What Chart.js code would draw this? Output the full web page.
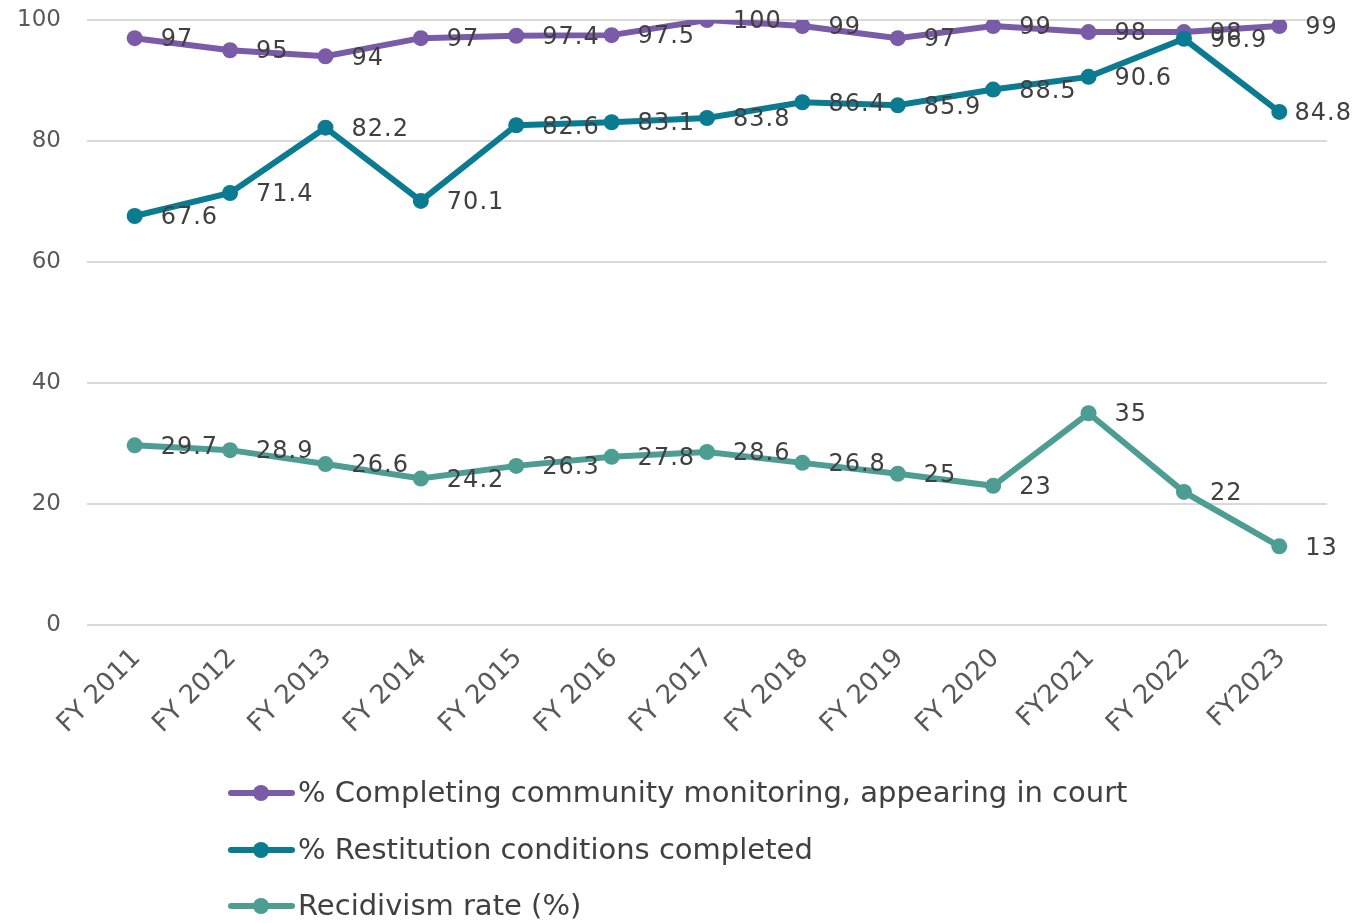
<!DOCTYPE html>
<html>
<head>
<meta charset="utf-8">
<script src="https://cdn.jsdelivr.net/npm/chart.js@4.4.1/dist/chart.umd.min.js"></script>
<style>
  html, body { margin: 0; padding: 0; background: #ffffff; }
  #wrap { width: 1356px; height: 923px; }
</style>
</head>
<body>
<div id="wrap"><canvas id="chart" width="1356" height="923"></canvas></div>
<script>
// Fiscal years on the category axis
const years = ['FY 2011', 'FY 2012', 'FY 2013', 'FY 2014', 'FY 2015', 'FY 2016', 'FY 2017',
               'FY 2018', 'FY 2019', 'FY 2020', 'FY2021', 'FY 2022', 'FY2023'];

// % Completing community monitoring, appearing in court
const monitoring = [97, 95, 94, 97, 97.4, 97.5, 100, 99, 97, 99, 98, 98, 99];
// % Restitution conditions completed
const restitution = [67.6, 71.4, 82.2, 70.1, 82.6, 83.1, 83.8, 86.4, 85.9, 88.5, 90.6, 96.9, 84.8];
// Recidivism rate (%)
const recidivism = [29.7, 28.9, 26.6, 24.2, 26.3, 27.8, 28.6, 26.8, 25, 23, 35, 22, 13];

const seriesNames = [
  '% Completing community monitoring, appearing in court',
  '% Restitution conditions completed',
  'Recidivism rate (%)'
];
const seriesColors = ['#7a5ba7', '#0b7b92', '#4e9d93'];

const yMin = 0, yMax = 100, yStep = 20;

const NUM_FONT = '"DejaVu Sans", sans-serif';

// Value labels placed to the right of each point
const valueLabels = {
  id: 'valueLabels',
  afterDatasetsDraw(chart) {
    const ctx = chart.ctx;
    ctx.save();
    ctx.font = '24px ' + NUM_FONT;
    if ('letterSpacing' in ctx) ctx.letterSpacing = '1px';
    ctx.fillStyle = '#404040';
    ctx.textAlign = 'left';
    ctx.textBaseline = 'middle';
    chart.data.datasets.forEach((ds, i) => {
      const meta = chart.getDatasetMeta(i);
      meta.data.forEach((pt, j) => {
        const txt = String(ds.data[j]);
        const w = ctx.measureText(txt).width;
        let x = pt.x + 26;
        if (x + w > chart.width - 4) x = chart.width - 4 - w;
        ctx.fillText(txt, x, pt.y + 2);
      });
    });
    ctx.restore();
  }
};

// Stacked legend under the axis
const stackedLegend = {
  id: 'stackedLegend',
  afterDraw(chart) {
    const ctx = chart.ctx;
    ctx.save();
    ctx.font = '29px ' + NUM_FONT;
    ctx.textAlign = 'left';
    ctx.textBaseline = 'middle';
    const x0 = 228, rows = [793, 850, 906];
    chart.data.datasets.forEach((ds, i) => {
      const y = rows[i];
      ctx.strokeStyle = ds.borderColor;
      ctx.lineWidth = 6;
      ctx.lineCap = 'round';
      ctx.beginPath();
      ctx.moveTo(x0 + 3, y);
      ctx.lineTo(x0 + 64, y);
      ctx.stroke();
      ctx.fillStyle = ds.borderColor;
      ctx.beginPath();
      ctx.arc(x0 + 33, y, 8, 0, Math.PI * 2);
      ctx.fill();
      ctx.fillStyle = '#404040';
      ctx.fillText(ds.label, x0 + 70, y + 1);
    });
    ctx.restore();
  }
};

const makeSeries = (label, data, color, order) => ({
  label, data, order,
  borderColor: color,
  backgroundColor: color,
  borderWidth: 6,
  pointRadius: 8,
  pointHoverRadius: 8,
  pointBackgroundColor: color,
  pointBorderWidth: 0,
  tension: 0,
  fill: false
});

new Chart(document.getElementById('chart'), {
  type: 'line',
  data: {
    labels: years,
    datasets: [
      makeSeries(seriesNames[0], monitoring, seriesColors[0], 3),
      makeSeries(seriesNames[1], restitution, seriesColors[1], 2),
      makeSeries(seriesNames[2], recidivism, seriesColors[2], 1)
    ]
  },
  options: {
    responsive: false,
    animation: false,
    devicePixelRatio: 1,
    layout: { padding: { top: 20, right: 29, bottom: 150, left: 0 } },
    plugins: { legend: { display: false }, tooltip: { enabled: false } },
    scales: {
      x: {
        type: 'category',
        offset: true,
        grid: { display: false },
        border: { display: false },
        ticks: {
          color: '#595959',
          font: { family: NUM_FONT, size: 26 },
          minRotation: 45, maxRotation: 45,
          autoSkip: false,
          padding: 10,
          labelOffset: 2
        },
        afterFit(scale) {
          scale.height = 148;
          scale.paddingLeft = 0; scale.paddingRight = 0;
          scale.paddingTop = 0; scale.paddingBottom = 0;
        }
      },
      y: {
        min: yMin, max: yMax,
        grid: { color: '#d9d9d9', lineWidth: 2, drawTicks: false },
        border: { display: false },
        ticks: {
          stepSize: yStep,
          color: '#595959',
          font: { family: NUM_FONT, size: 23 },
          padding: 26
        },
        afterFit(scale) {
          scale.width = 87;
          scale.paddingTop = 0; scale.paddingBottom = 0;
        }
      }
    }
  },
  plugins: [valueLabels, stackedLegend]
});
</script>
</body>
</html>
